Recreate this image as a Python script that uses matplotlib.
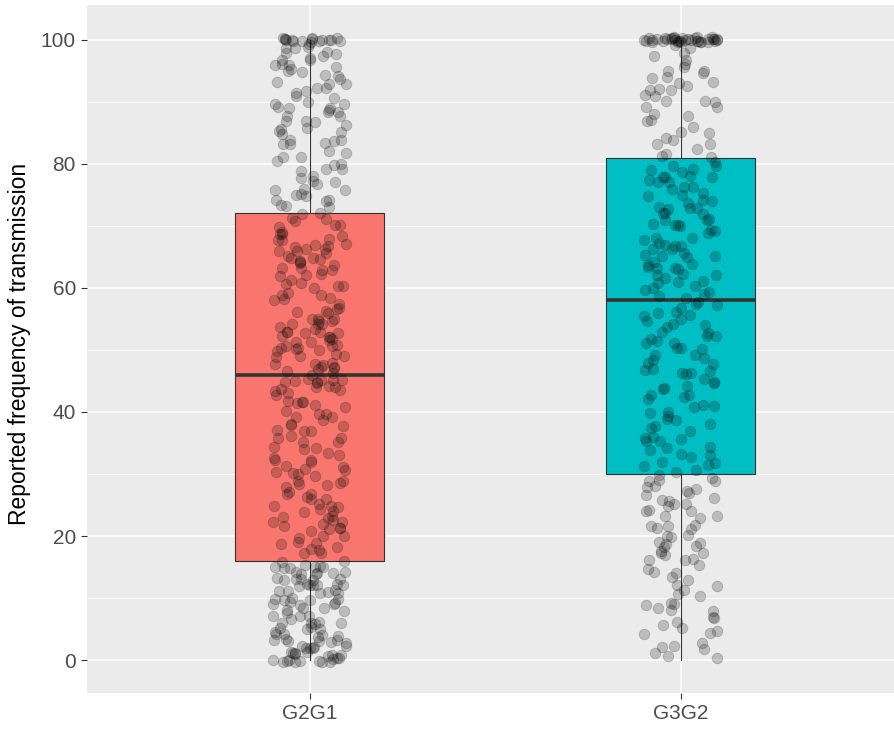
import numpy as np
import matplotlib
matplotlib.use("Agg")
import matplotlib.pyplot as plt
from matplotlib.ticker import MultipleLocator

plt.rcParams['font.family'] = ['Liberation Sans', 'DejaVu Sans']

categories = ["G2G1", "G3G2"]
box_colors = ["#F8766D", "#00BFC4"]

# G2G1 responses, grouped by quartile band
g2g1_low = [0, 0, 0, 0, 0, 0, 0, 0, 1, 1,
            1, 1, 1, 2, 2, 2, 2, 3, 3, 3,
            3, 4, 4, 4, 5, 5, 5, 6, 6, 6,
            7, 7, 7, 8, 8, 8, 9, 9, 9, 10,
            10, 10, 10, 11, 11, 11, 11, 12, 12, 12,
            12, 12, 13, 13, 13, 13, 14, 14, 14, 14,
            14, 15, 15, 15, 15, 15, 2, 5, 8, 11,
            0, 1, 3, 4, 6, 9, 12, 13, 15,
            0, 0, 1, 2, 3, 4, 5, 6, 7, 8,
            9, 10, 11, 12, 13, 14, 1, 3, 0, 15,
            16, 16]
g2g1_midlow = [17, 17, 18, 18, 19, 19, 20, 20, 21, 21,
               21, 22, 22, 22, 23, 23, 23, 24, 24, 25,
               25, 25, 26, 26, 27, 27, 28, 28, 29, 29,
               30, 30, 30, 31, 31, 31, 32, 32, 33, 33,
               34, 34, 35, 35, 36, 36, 37, 37, 38, 38,
               39, 39, 40, 40, 41, 41, 42, 42, 43, 43,
               44, 44, 44, 45, 45, 45, 45, 45, 20, 26,
               18, 24, 31, 37, 42, 44, 45, 28,
               19, 21, 23, 25, 27, 29, 30, 32, 34, 36,
               38, 40, 41, 43, 44, 45, 22, 33, 39, 45,
               46, 46]
g2g1_midhigh = [47, 47, 47, 48, 48, 48, 49, 49, 49, 50,
                50, 50, 50, 51, 51, 51, 52, 52, 52, 53,
                53, 53, 53, 54, 54, 54, 55, 55, 55, 56,
                56, 57, 57, 58, 58, 59, 59, 60, 60, 61,
                61, 62, 62, 62, 63, 63, 63, 64, 64, 64,
                65, 65, 65, 66, 66, 66, 67, 67, 67, 68,
                68, 68, 69, 69, 70, 70, 71, 71, 47, 55,
                51, 53, 60, 64, 66, 69, 71, 58,
                47, 48, 49, 50, 51, 52, 53, 54, 55, 56,
                57, 59, 61, 63, 65, 66, 67, 68, 70, 52,
                72, 72]
g2g1_high = [73, 73, 74, 74, 75, 75, 76, 76, 77, 77,
             78, 78, 79, 79, 80, 80, 81, 81, 82, 82,
             83, 83, 84, 84, 85, 85, 86, 86, 87, 87,
             87, 88, 88, 88, 89, 89, 89, 90, 90, 91,
             91, 92, 92, 93, 93, 94, 94, 95, 95, 96,
             96, 96, 97, 97, 98, 98, 99, 99, 100, 100,
             100, 100, 100, 100, 100, 100, 100, 100, 100, 100,
             73, 76, 79, 84, 90, 95, 97, 99, 100,
             74, 75, 77, 80, 83, 86, 88, 89, 91, 93,
             94, 96, 97, 98, 99, 100, 100, 100, 85, 92]

# G3G2 responses, grouped by quartile band
g3g2_low = [0, 1, 2, 2, 3, 4, 5, 6, 6, 7,
            7, 8, 8, 9, 9, 10, 11, 12, 13, 14,
            14, 15, 15, 16, 16, 17, 17, 18, 18, 19,
            19, 20, 20, 21, 21, 22, 22, 23, 23, 24,
            24, 25, 25, 26, 26, 27, 27, 28, 28, 29,
            29, 29, 2, 8, 12, 17, 20, 23, 26, 28,
            5, 13, 18, 25,
            1, 4, 9, 11, 16, 19, 22, 24, 27, 29,
            30, 30]
g3g2_midlow = [31, 31, 32, 32, 33, 33, 34, 34, 35, 35,
               36, 36, 37, 37, 38, 38, 39, 40, 40, 41,
               41, 42, 43, 43, 44, 44, 45, 45, 46, 46,
               47, 47, 48, 48, 49, 49, 50, 50, 51, 51,
               52, 52, 53, 53, 54, 54, 55, 55, 56, 56,
               57, 57, 31, 34, 39, 44, 48, 50, 52, 55,
               57, 46, 42,
               33, 36, 39, 41, 45, 47, 49, 51, 54, 56,
               58, 58]
g3g2_midhigh = [59, 59, 60, 60, 61, 61, 62, 62, 63, 63,
                64, 64, 65, 65, 66, 66, 67, 67, 68, 68,
                69, 69, 70, 70, 71, 71, 72, 72, 73, 73,
                74, 74, 75, 75, 76, 76, 77, 77, 78, 78,
                79, 79, 80, 80, 59, 61, 63, 65, 67, 69,
                71, 73, 75, 77, 79, 62, 66, 70, 74, 78,
                64, 68, 72,
                60, 62, 65, 67, 70, 73, 76, 78, 80, 63,
                81, 81]
g3g2_high = [82, 82, 83, 84, 85, 85, 86, 87, 88, 89,
             89, 90, 90, 91, 91, 92, 92, 93, 93, 94,
             94, 95, 95, 96, 97, 98, 99, 99, 100, 100,
             100, 100, 100, 100, 100, 100, 100, 100, 100, 100,
             100, 100, 100, 100, 100, 100, 100, 100, 100, 100,
             100, 100, 100, 100, 100, 100, 100, 100, 100, 100,
             87, 96, 83, 92,
             84, 88, 90, 93, 95, 97, 100, 100, 100, 100]

g2g1 = np.array(g2g1_low + g2g1_midlow + g2g1_midhigh + g2g1_high, dtype=float)
g3g2 = np.array(g3g2_low + g3g2_midlow + g3g2_midhigh + g3g2_high, dtype=float)
groups = [g2g1, g3g2]

W, H = 895, 729
fig = plt.figure(figsize=(W / 100, H / 100), dpi=100)
ax = fig.add_axes([87 / W, 1 - 693 / H, 1 - 87 / W, (693 - 5) / H])
ax.set_facecolor("#EBEBEB")

ax.set_ylim(-5.3, 105.6)
ax.set_xlim(0.4, 0.4 + (W - 87) / 371)

ax.yaxis.set_major_locator(MultipleLocator(20))
ax.yaxis.set_minor_locator(MultipleLocator(10))
ax.grid(which="major", color="white", linewidth=1.1)
ax.grid(which="minor", axis="y", color="white", linewidth=0.55)
ax.set_axisbelow(True)
for s in ax.spines.values():
    s.set_visible(False)

pos = [1, 2]
bp = ax.boxplot(groups, positions=pos, widths=0.4, whis=(0, 100),
                patch_artist=True, showcaps=False, showfliers=False,
                medianprops=dict(color="#333333", linewidth=2.6),
                whiskerprops=dict(color="#333333", linewidth=0.8),
                boxprops=dict(edgecolor="#333333", linewidth=0.8),
                zorder=2)
for patch, c in zip(bp["boxes"], box_colors):
    patch.set_facecolor(c)

# jitter like geom_jitter (display offsets only, values untouched)
rng = np.random.default_rng(7)
for p, vals in zip(pos, groups):
    xs = p + rng.uniform(-0.1, 0.1, len(vals))
    ys = vals + rng.uniform(-0.4, 0.4, len(vals))
    ax.scatter(xs, ys, s=58, color="black", alpha=0.2,
               edgecolors="black", linewidths=0.6, zorder=3)

ax.set_xticks(pos)
ax.set_xticklabels(categories)
ax.tick_params(axis="both", which="major", length=4, width=0.8,
               color="#333333", labelcolor="#4D4D4D", labelsize=15, pad=4)
ax.tick_params(axis="y", which="minor", length=0)
ax.set_ylabel("Reported frequency of transmission", fontsize=16.5,
              color="black")
ax.yaxis.set_label_coords((31 - 87) / (W - 87), 0.507)

fig.savefig("out.png", dpi=100)
